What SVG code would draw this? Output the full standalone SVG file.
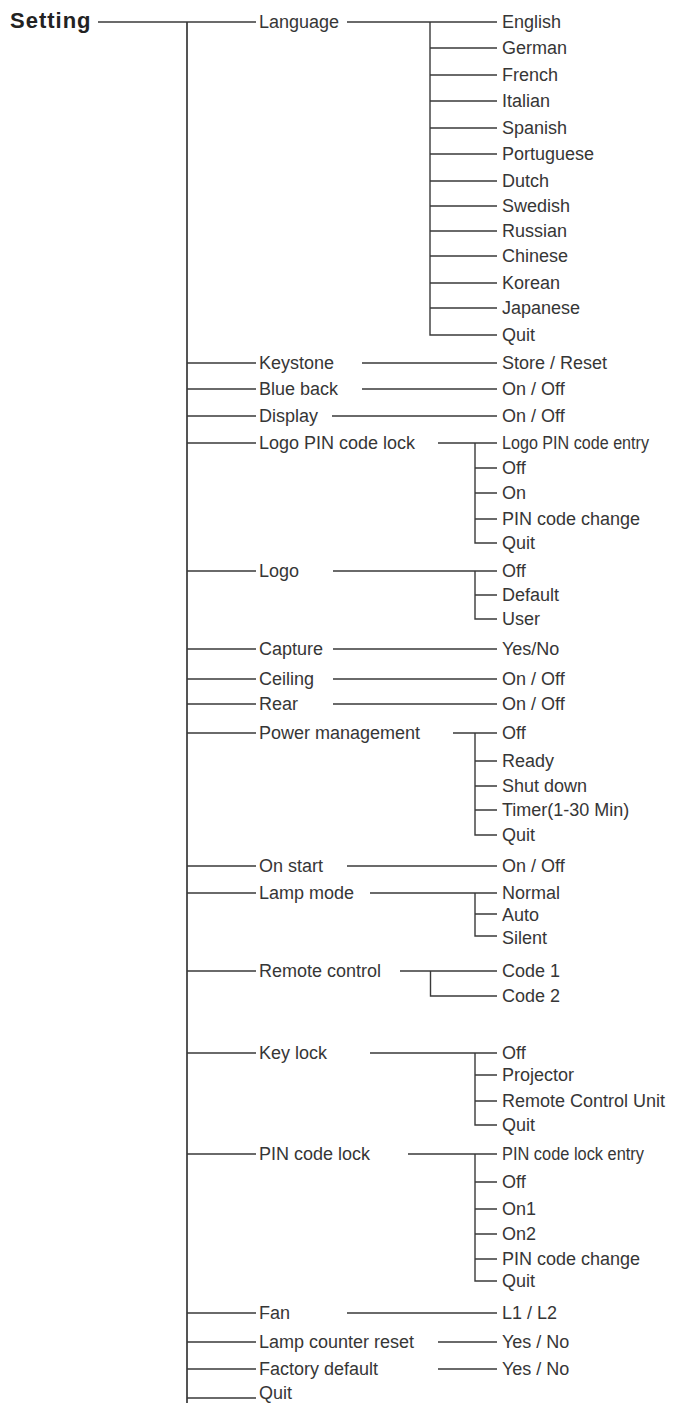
<svg xmlns="http://www.w3.org/2000/svg" width="676" height="1403" viewBox="0 0 676 1403">
<style>
.t{font-family:"Liberation Sans",Arial,sans-serif;font-size:18px;fill:#363636}
.b{font-family:"Liberation Sans",Arial,sans-serif;font-size:22px;font-weight:bold;fill:#222;letter-spacing:1px}
.c{fill:none;stroke:#3a3a3a;stroke-width:1.4}
.k{fill:none;stroke:#555;stroke-width:2}
</style>
<rect width="676" height="1403" fill="#fff"/>
<g id="connectors">
<path class="k" d="M187 22V1403"/>
<path class="c" d="M98 22H256"/>
<path class="c" d="M187 363H256M187 389H256M187 416H256M187 443H256M187 571H256M187 649H256M187 679H256M187 704H256M187 733H256M187 866H256M187 893H256M187 971H256M187 1053H256M187 1154H256M187 1313H256M187 1342H256M187 1369H256M187 1398H256"/>
<path class="c" d="M347 22H497M430 22V335H497M430 48H497M430 75H497M430 101H497M430 128H497M430 154H497M430 181H497M430 206H497M430 231H497M430 256H497M430 283H497M430 308H497"/>
<path class="c" d="M362 363H497M362 389H497M332 416H497"/>
<path class="c" d="M438 443H497M475 443V543H497M475 468H497M475 493H497M475 519H497"/>
<path class="c" d="M333 571H497M475 571V619H497M475 595H497"/>
<path class="c" d="M333 649H497M333 679H497M333 704H497"/>
<path class="c" d="M453 733H497M475 733V835H497M475 761H497M475 786H497M475 810H497"/>
<path class="c" d="M347 866H497"/>
<path class="c" d="M370 893H497M475 893V936H497M475 914H497"/>
<path class="c" d="M400 971H497M430.5 971V996H497"/>
<path class="c" d="M370 1053H497M475 1053V1125H497M475 1075H497M475 1101H497"/>
<path class="c" d="M408 1154H497M475 1154V1281H497M475 1182H497M475 1209H497M475 1234H497M475 1259H497"/>
<path class="c" d="M347 1313H497M438 1342H497M438 1369H497"/>
</g>
<g id="setting"><text class="b" x="10" y="28">Setting</text></g>
<g id="language"><text class="t" x="259" y="28">Language</text></g>
<g id="language-options">
<text class="t" x="502" y="28">English</text>
<text class="t" x="502" y="54">German</text>
<text class="t" x="502" y="81">French</text>
<text class="t" x="502" y="107">Italian</text>
<text class="t" x="502" y="134">Spanish</text>
<text class="t" x="502" y="160">Portuguese</text>
<text class="t" x="502" y="187">Dutch</text>
<text class="t" x="502" y="212">Swedish</text>
<text class="t" x="502" y="237">Russian</text>
<text class="t" x="502" y="262">Chinese</text>
<text class="t" x="502" y="289">Korean</text>
<text class="t" x="502" y="314">Japanese</text>
<text class="t" x="502" y="341">Quit</text>
</g>
<g id="keystone"><text class="t" x="259" y="369">Keystone</text><text class="t" x="502" y="369">Store / Reset</text></g>
<g id="blue-back"><text class="t" x="259" y="395">Blue back</text><text class="t" x="502" y="395">On / Off</text></g>
<g id="display"><text class="t" x="259" y="422">Display</text><text class="t" x="502" y="422">On / Off</text></g>
<g id="logo-pin-code-lock"><text class="t" x="259" y="449">Logo PIN code lock</text>
<text class="t" x="502" y="449" textLength="147" lengthAdjust="spacingAndGlyphs">Logo PIN code entry</text>
<text class="t" x="502" y="474">Off</text>
<text class="t" x="502" y="499">On</text>
<text class="t" x="502" y="525">PIN code change</text>
<text class="t" x="502" y="549">Quit</text></g>
<g id="logo"><text class="t" x="259" y="577">Logo</text>
<text class="t" x="502" y="577">Off</text>
<text class="t" x="502" y="601">Default</text>
<text class="t" x="502" y="625">User</text></g>
<g id="capture"><text class="t" x="259" y="655">Capture</text><text class="t" x="502" y="655">Yes/No</text></g>
<g id="ceiling"><text class="t" x="259" y="685">Ceiling</text><text class="t" x="502" y="685">On / Off</text></g>
<g id="rear"><text class="t" x="259" y="710">Rear</text><text class="t" x="502" y="710">On / Off</text></g>
<g id="power-management"><text class="t" x="259" y="739">Power management</text>
<text class="t" x="502" y="739">Off</text>
<text class="t" x="502" y="767">Ready</text>
<text class="t" x="502" y="792">Shut down</text>
<text class="t" x="502" y="816">Timer(1-30 Min)</text>
<text class="t" x="502" y="841">Quit</text></g>
<g id="on-start"><text class="t" x="259" y="872">On start</text><text class="t" x="502" y="872">On / Off</text></g>
<g id="lamp-mode"><text class="t" x="259" y="899">Lamp mode</text>
<text class="t" x="502" y="899">Normal</text>
<text class="t" x="502" y="921">Auto</text>
<text class="t" x="502" y="944">Silent</text></g>
<g id="remote-control"><text class="t" x="259" y="977">Remote control</text>
<text class="t" x="502" y="977">Code 1</text>
<text class="t" x="502" y="1002">Code 2</text></g>
<g id="key-lock"><text class="t" x="259" y="1059">Key lock</text>
<text class="t" x="502" y="1059">Off</text>
<text class="t" x="502" y="1081">Projector</text>
<text class="t" x="502" y="1107">Remote Control Unit</text>
<text class="t" x="502" y="1131">Quit</text></g>
<g id="pin-code-lock"><text class="t" x="259" y="1160">PIN code lock</text>
<text class="t" x="502" y="1160" textLength="142" lengthAdjust="spacingAndGlyphs">PIN code lock entry</text>
<text class="t" x="502" y="1188">Off</text>
<text class="t" x="502" y="1215">On1</text>
<text class="t" x="502" y="1240">On2</text>
<text class="t" x="502" y="1265">PIN code change</text>
<text class="t" x="502" y="1287">Quit</text></g>
<g id="fan"><text class="t" x="259" y="1319">Fan</text><text class="t" x="502" y="1319">L1 / L2</text></g>
<g id="lamp-counter-reset"><text class="t" x="259" y="1348">Lamp counter reset</text><text class="t" x="502" y="1348">Yes / No</text></g>
<g id="factory-default"><text class="t" x="259" y="1375">Factory default</text><text class="t" x="502" y="1375">Yes / No</text></g>
<g id="quit"><text class="t" x="259" y="1399">Quit</text></g>
</svg>
